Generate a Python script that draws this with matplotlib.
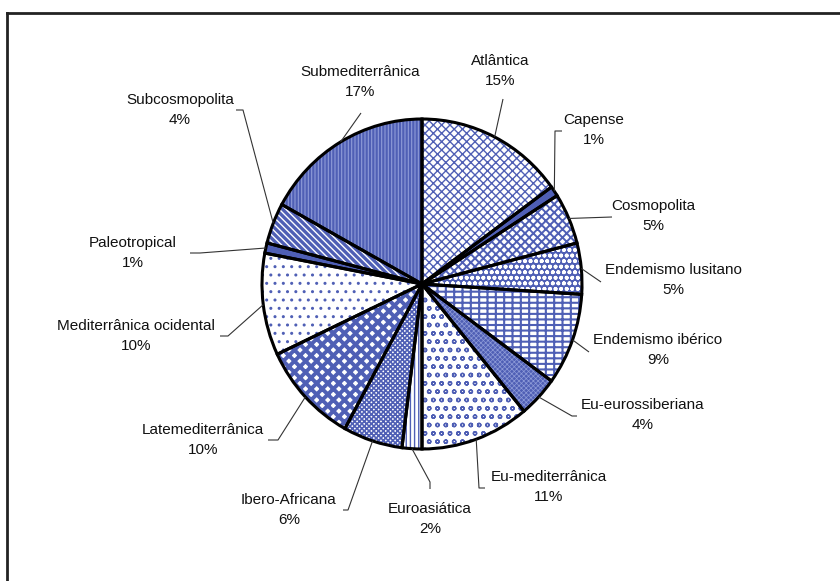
import numpy as np
import matplotlib
matplotlib.use('Agg')
import matplotlib.pyplot as plt
from matplotlib.lines import Line2D

plt.rcParams['font.family'] = ['Liberation Sans', 'DejaVu Sans']

names = ['Atlântica', 'Capense', 'Cosmopolita', 'Endemismo lusitano',
         'Endemismo ibérico', 'Eu-eurossiberiana', 'Eu-mediterrânica',
         'Euroasiática', 'Ibero-Africana', 'Latemediterrânica',
         'Mediterrânica ocidental', 'Paleotropical', 'Subcosmopolita',
         'Submediterrânica']
pcts = [15, 1, 5, 5, 9, 4, 11, 2, 6, 10, 10, 1, 4, 17]

blue = '#4f5fb5'
light = '#8e9bd8'
# face colour, hatch colour, hatch, hatch linewidth
styles = [
    ('white', blue, 'xxxx', 1.0),
    (blue, blue, '', 1.0),
    ('white', blue, 'xxxx', 1.4),
    (blue, 'white', 'ooo', 1.2),
    ('white', blue, '++-', 1.5),
    (blue, light, 'xxxxxxx', 0.5),
    ('white', blue, 'oo', 1.0),
    ('white', blue, '||||', 1.0),
    ('white', blue, 'xxxxxxx', 1.2),
    ('white', blue, 'xxx', 2.8),
    ('white', blue, '..', 1.0),
    (blue, blue, '', 1.0),
    ('white', blue, '\\\\\\\\\\', 2.4),
    (blue, light, '|||||', 0.8),
]

# label centres and leader-line bends, in pixels from the top-left corner
label_pos = [(500, 71), (594, 130), (653, 216), (673, 280), (658, 350),
             (643, 415), (549, 487), (430, 519), (289, 510), (203, 440),
             (136, 336), (133, 253), (180, 110), (360, 82)]
leader_bends = [[(503, 99)], [(555, 131), (562, 131)], [(612, 217)],
                [(601, 282)], [(589, 352)], [(572, 416), (577, 416)],
                [(479, 488), (485, 488)], [(430, 482), (430, 489)],
                [(348, 510), (343, 510)], [(278, 440), (268, 440)],
                [(228, 336), (220, 336)], [(200, 253), (190, 253)],
                [(243, 110), (236, 110)], [(361, 113)]]

W, H = 840, 581
cx, cy, rx, ry = 422, 284, 160, 165


def px2data(px, py):
    return (px - cx) / rx, (cy - py) / ry


fig = plt.figure(figsize=(W / 100, H / 100), dpi=100)
ax = fig.add_axes([0, 0, 1, 1])

wedges, _ = ax.pie(pcts, startangle=90, counterclock=False, radius=1,
                   wedgeprops=dict(linewidth=0))
for w, (fc, hc, hatch, hlw) in zip(wedges, styles):
    w.set_facecolor(fc)
    w.set_edgecolor(hc)
    w.set_hatch(hatch)
    if hasattr(w, 'set_hatch_linewidth'):
        w.set_hatch_linewidth(hlw)
    w.set_linewidth(0)

ax.pie(pcts, startangle=90, counterclock=False, radius=1,
       wedgeprops=dict(fill=False, edgecolor='black', linewidth=2.2))

ax.set_aspect('auto')
ax.set_xlim(-cx / rx, (W - cx) / rx)
ax.set_ylim((cy - H) / ry, cy / ry)
ax.axis('off')

for w, name, p, pos, bends in zip(wedges, names, pcts, label_pos, leader_bends):
    mid = np.deg2rad((w.theta1 + w.theta2) / 2)
    xs = [np.cos(mid)] + [px2data(*b)[0] for b in bends]
    ys = [np.sin(mid)] + [px2data(*b)[1] for b in bends]
    ax.plot(xs, ys, color='#333333', lw=0.8, solid_capstyle='butt')
    tx, ty = px2data(*pos)
    ax.text(tx, ty, f'{name}\n{p}%', ha='center', va='center',
            fontsize=11, linespacing=1.55, color='#111111')

fig.add_artist(Line2D([7, 7], [0, H - 13], transform=None, color='#222222', lw=2))
fig.add_artist(Line2D([7, W], [H - 13, H - 13], transform=None, color='#222222', lw=2))

fig.savefig('out.png', dpi=100)
